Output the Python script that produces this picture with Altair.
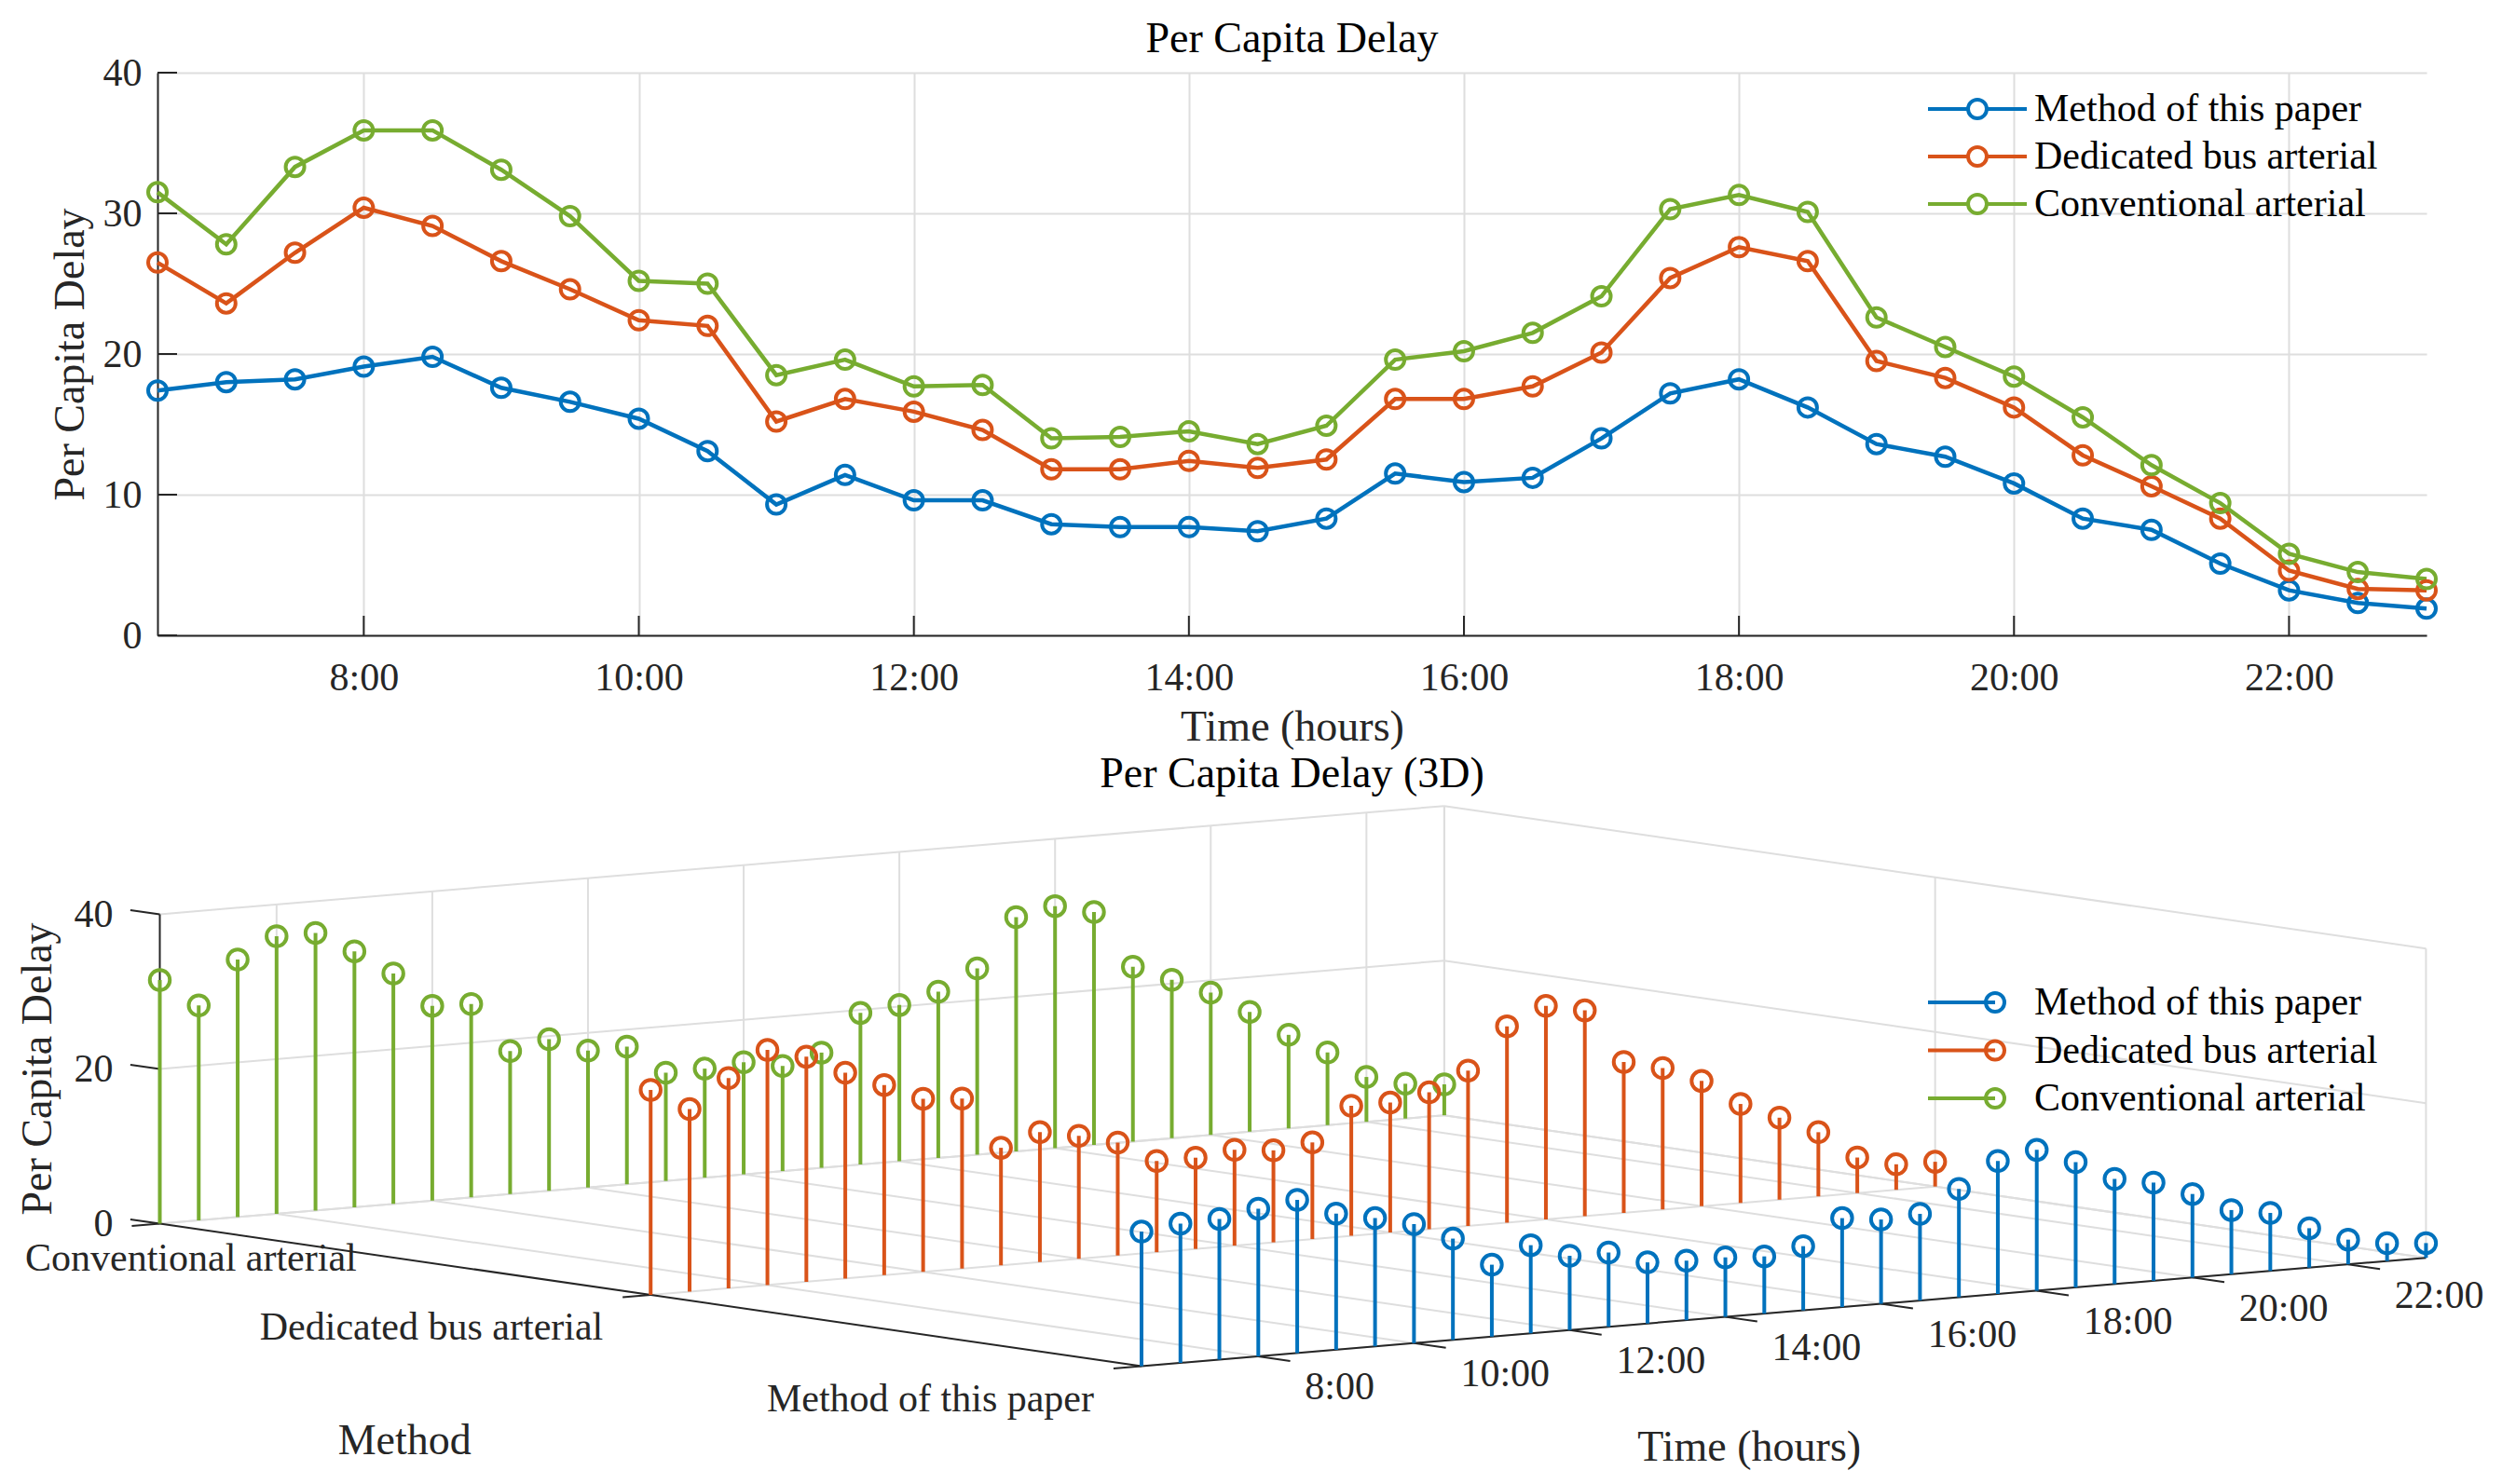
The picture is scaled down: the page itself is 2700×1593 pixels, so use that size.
import altair as alt
import pandas as pd

# ---------------- data ----------------
hours = [6.5, 7.0, 7.5, 8.0, 8.5, 9.0, 9.5, 10.0, 10.5, 11.0, 11.5, 12.0, 12.5,
         13.0, 13.5, 14.0, 14.5, 15.0, 15.5, 16.0, 16.5, 17.0, 17.5, 18.0, 18.5,
         19.0, 19.5, 20.0, 20.5, 21.0, 21.5, 22.0, 22.5, 23.0]
method_paper = [17.4, 18.0, 18.2, 19.1, 19.8, 17.6, 16.6, 15.4, 13.1, 9.3, 11.4, 9.6, 9.6,
                7.9, 7.7, 7.7, 7.4, 8.3, 11.5, 10.9, 11.2, 14.0, 17.2, 18.2, 16.2,
                13.6, 12.7, 10.8, 8.3, 7.5, 5.1, 3.2, 2.3, 1.9]
dedicated_bus = [26.5, 23.6, 27.2, 30.4, 29.1, 26.6, 24.6, 22.4, 22.0, 15.2, 16.8, 15.9, 14.6,
                 11.8, 11.8, 12.4, 11.9, 12.5, 16.8, 16.8, 17.7, 20.1, 25.4, 27.6, 26.6,
                 19.5, 18.3, 16.2, 12.8, 10.6, 8.3, 4.6, 3.3, 3.2]
conventional = [31.5, 27.8, 33.3, 35.9, 35.9, 33.1, 29.8, 25.2, 25.0, 18.5, 19.6, 17.7, 17.8,
                14.0, 14.1, 14.5, 13.6, 14.9, 19.6, 20.2, 21.5, 24.1, 30.3, 31.3, 30.1,
                22.6, 20.5, 18.4, 15.5, 12.1, 9.4, 5.8, 4.5, 4.0]

series_names = ["Method of this paper", "Dedicated bus arterial", "Conventional arterial"]
series_colors = ["#0072BD", "#D95319", "#77AC30"]
method_pos = [1, 2, 3]
time_ticks = [8, 10, 12, 14, 16, 18, 20, 22]
delay_ticks = [0, 10, 20, 30, 40]
z_ticks = [0, 20, 40]
h_lim = [6.5, 23.0]
m_lim = [1, 3]
z_lim = [0, 40]
title_top = ["Per Capita Delay"]
title_bottom = ["Per Capita Delay (3D)"]

# ---------------- styles ----------------
FONT = "Liberation Serif"
TXT = "#262626"
GRID = "#DEDEDE"
LAB = 42
TIT = 46

rows = []
for name, m, vals in zip(series_names, method_pos, [method_paper, dedicated_bus, conventional]):
    for h, v in zip(hours, vals):
        rows.append({"series": name, "m": m, "h": h, "delay": v})
df = pd.DataFrame(rows)

# ======================= top 2-D chart =======================
W, H = 2435, 604
xs_top = alt.Scale(domain=h_lim, nice=False, zero=False)
ys_top = alt.Scale(domain=z_lim, nice=False, zero=False)
cs_top = alt.Scale(domain=series_names, range=series_colors)

x_axis = alt.Axis(values=time_ticks, labelExpr="datum.value + ':00'", title="Time (hours)",
                  grid=True, gridColor=GRID, gridWidth=2, ticks=False, tickSize=0,
                  labelPadding=58, labelBaseline="alphabetic", labelFontSize=LAB,
                  titleFontSize=TIT, titleY=112, titleBaseline="alphabetic",
                  domainWidth=2, domainColor=TXT, labelFlush=False)
y_axis = alt.Axis(values=delay_ticks, title="Per Capita Delay", grid=True, gridColor=GRID,
                  gridWidth=2, ticks=False, tickSize=0, labelPadding=17, labelFontSize=LAB,
                  titleFontSize=TIT, titleX=-80, titleY=H / 2, titleAngle=270,
                  titleBaseline="alphabetic", titleAlign="center",
                  domainWidth=2, domainColor=TXT, labelFlush=False)

PATH_TOP = "M-5.3,0L-1,0M1,0L5.3,0M1,0A1,1,0,1,1,-1,0A1,1,0,1,1,1,0"
legend_top = alt.Legend(title=None, orient="none", legendX=1932, legendY=18,
                        symbolType=PATH_TOP, symbolSize=400, symbolStrokeWidth=4,
                        labelFont=FONT, labelFontSize=LAB, labelColor="black",
                        labelOffset=40, rowPadding=9, padding=0, labelLimit=0)

base_top = alt.Chart(df)
lines = base_top.mark_line(strokeWidth=4.5).encode(
    x=alt.X("h:Q", scale=xs_top, axis=x_axis),
    y=alt.Y("delay:Q", scale=ys_top, axis=y_axis),
    color=alt.Color("series:N", scale=cs_top, legend=legend_top),
)
pts = base_top.mark_point(filled=False, size=400, strokeWidth=4, opacity=1).encode(
    x=alt.X("h:Q", scale=xs_top, axis=x_axis),
    y=alt.Y("delay:Q", scale=ys_top, axis=y_axis),
    color=alt.Color("series:N", scale=cs_top, legend=legend_top),
)
xt = alt.Chart(pd.DataFrame({"h": time_ticks})).mark_rule(color=TXT, strokeWidth=2).encode(
    x=alt.X("h:Q", scale=xs_top, axis=x_axis), y=alt.value(H), y2=alt.value(H - 21))
yt = alt.Chart(pd.DataFrame({"delay": delay_ticks})).mark_rule(color=TXT, strokeWidth=2).encode(
    y=alt.Y("delay:Q", scale=ys_top, axis=y_axis), x=alt.value(0), x2=alt.value(21))
ttl_top = alt.Chart(pd.DataFrame({"lab": title_top})).mark_text(
    font=FONT, fontSize=TIT, color="black", align="center", baseline="alphabetic").encode(
    text="lab:N", x=alt.value(W / 2), y=alt.value(-22))

top = alt.layer(xt, yt, lines, pts, ttl_top).properties(width=W, height=H)

# ======================= bottom 3-D stem chart =======================
HB = 720
X0B, Y0B = 168, 860
xs_b = alt.Scale(domain=[X0B, X0B + W], nice=False, zero=False)
ys_b = alt.Scale(domain=[Y0B, Y0B + HB], nice=False, zero=False, reverse=True)
cs_b = alt.Scale(domain=series_names, range=series_colors)

# orthographic projection of (hour, method, delay) onto the page
def PX(h, m):
    return f"170.5 + 83.54*(({h}) - 6.5) + 526.75*(3 - ({m}))"

def PY(h, m, z):
    return f"1313.5 - 7.05*(({h}) - 6.5) + 76.5*(3 - ({m})) - 8.3*({z})"

def seg_chart(segs, color, width):
    d = pd.DataFrame(segs, columns=["h1", "m1", "z1", "h2", "m2", "z2"])
    return alt.Chart(d).transform_calculate(
        x1=PX("datum.h1", "datum.m1"), y1=PY("datum.h1", "datum.m1", "datum.z1"),
        x2=PX("datum.h2", "datum.m2"), y2=PY("datum.h2", "datum.m2", "datum.z2"),
    ).mark_rule(color=color, strokeWidth=width).encode(
        x=alt.X("x1:Q", scale=xs_b, axis=None), y=alt.Y("y1:Q", scale=ys_b, axis=None),
        x2="x2:Q", y2="y2:Q")

hmin, hmax = h_lim
mmin, mmax = m_lim
zmin, zmax = z_lim
grid_segs = []
for h in time_ticks + [hmax]:
    grid_segs.append([h, mmax, zmin, h, mmax, zmax])      # back wall verticals
    grid_segs.append([h, mmax, zmin, h, mmin, zmin])      # floor lines
for z in z_ticks:
    grid_segs.append([hmin, mmax, z, hmax, mmax, z])      # back wall horizontals
    grid_segs.append([hmax, mmax, z, hmax, mmin, z])      # side wall horizontals
for m in method_pos:
    grid_segs.append([hmax, m, zmin, hmax, m, zmax])      # side wall verticals
    grid_segs.append([hmin, m, zmin, hmax, m, zmin])      # floor lines
axis_segs = [
    [hmin, mmax, zmin, hmin, mmax, zmax],
    [hmin, mmax, zmin, hmin, mmin, zmin],
    [hmin, mmin, zmin, hmax, mmin, zmin],
]
for h in time_ticks:
    axis_segs.append([h, mmin, zmin, h, mmin - 0.065, zmin])
for m in method_pos:
    axis_segs.append([hmin, m, zmin, hmin - 0.36, m, zmin])
for z in z_ticks:
    axis_segs.append([hmin, mmax, z, hmin, mmax + 0.06, z])

grid_layer = seg_chart(grid_segs, GRID, 2)
axis_layer = seg_chart(axis_segs, TXT, 2)

PATH_B = "M-7.2,0L0,0M1,0A1,1,0,1,1,-1,0A1,1,0,1,1,1,0"
legend_b = alt.Legend(title=None, orient="none", legendX=1951, legendY=195,
                      symbolType=PATH_B, symbolSize=400, symbolStrokeWidth=4,
                      labelFont=FONT, labelFontSize=LAB, labelColor="black",
                      labelOffset=21, rowPadding=9.5, padding=0, labelLimit=0)

stem_layers = []
for name in reversed(series_names):
    b = alt.Chart(df).transform_filter(alt.datum.series == name).transform_calculate(
        sx=PX("datum.h", "datum.m"), sy0=PY("datum.h", "datum.m", "0"),
        sy=PY("datum.h", "datum.m", "datum.delay"))
    col = alt.Color("series:N", scale=cs_b, legend=legend_b)
    stem_layers.append(b.mark_rule(strokeWidth=4).encode(
        x=alt.X("sx:Q", scale=xs_b, axis=None), y=alt.Y("sy0:Q", scale=ys_b, axis=None),
        y2="sy:Q", color=col))
    stem_layers.append(b.mark_point(filled=False, size=462, strokeWidth=4, opacity=1).encode(
        x=alt.X("sx:Q", scale=xs_b, axis=None), y=alt.Y("sy:Q", scale=ys_b, axis=None),
        color=col))

def text_layer(d, xexpr, yexpr, field, **kw):
    return alt.Chart(d).transform_calculate(px=xexpr, py=yexpr).mark_text(
        font=FONT, **kw).encode(
        x=alt.X("px:Q", scale=xs_b, axis=None), y=alt.Y("py:Q", scale=ys_b, axis=None),
        text=f"{field}:N")

tdf = pd.DataFrame({"h": time_ticks, "lab": [f"{t}:00" for t in time_ticks]})
time_lab = text_layer(tdf, PX("datum.h", mmin), PY("datum.h", mmin, zmin), "lab",
                      align="left", baseline="alphabetic", dx=50, dy=46.5,
                      fontSize=LAB, color=TXT)
mdf = pd.DataFrame({"m": method_pos, "lab": series_names})
meth_lab = text_layer(mdf[mdf.m < mmax], PX(hmin, "datum.m"), PY(hmin, "datum.m", zmin), "lab",
                      align="right", baseline="alphabetic", dx=-51, dy=48,
                      fontSize=LAB, color=TXT)
meth_lab3 = text_layer(mdf[mdf.m == mmax], PX(hmin, "datum.m"), PY(hmin, "datum.m", zmin), "lab",
                       align="left", baseline="alphabetic", dx=-144.5, dy=50,
                       fontSize=LAB, color=TXT)
zdf = pd.DataFrame({"z": z_ticks, "lab": [str(z) for z in z_ticks]})
z_lab = text_layer(zdf, PX(hmin, mmax), PY(hmin, mmax, "datum.z"), "lab",
                   align="right", baseline="middle", dx=-50, dy=0, fontSize=LAB, color=TXT)

# rotated text: offsets are applied in the rotated frame (dy < 0 moves it left)
ztitle = text_layer(pd.DataFrame({"lab": ["Per Capita Delay"]}), PX(hmin, mmax),
                    PY(hmin, mmax, (zmin + zmax) / 2), "lab", align="center",
                    baseline="alphabetic", angle=270, dx=0, dy=-116.5, fontSize=TIT, color=TXT)
mtitle = text_layer(pd.DataFrame({"lab": ["Method"]}), PX(hmin, (mmin + mmax) / 2),
                    PY(hmin, (mmin + mmax) / 2, zmin), "lab", align="center",
                    baseline="alphabetic", dx=-264, dy=171, fontSize=TIT, color=TXT)
ttitle = text_layer(pd.DataFrame({"lab": ["Time (hours)"]}), PX((hmin + hmax) / 2, mmin),
                    PY((hmin + hmax) / 2, mmin, zmin), "lab", align="center",
                    baseline="alphabetic", dx=-37, dy=160, fontSize=TIT, color=TXT)
ttl_b = alt.Chart(pd.DataFrame({"lab": title_bottom})).mark_text(
    font=FONT, fontSize=TIT, color="black", align="center", baseline="alphabetic").encode(
    text="lab:N", x=alt.value(W / 2), y=alt.value(-15.5))

bottom = alt.layer(grid_layer, axis_layer, *stem_layers, time_lab, meth_lab, meth_lab3,
                   z_lab, ztitle, mtitle, ttitle, ttl_b).properties(width=W, height=HB)

chart = alt.vconcat(top, bottom, spacing=Y0B - (78 + H), bounds="flush").resolve_scale(
    color="independent").resolve_legend(color="independent").properties(
    padding={"left": 9, "top": 11, "right": 0, "bottom": 0}
).configure_view(stroke=None).configure_axis(
    labelFont=FONT, titleFont=FONT, labelColor=TXT, titleColor=TXT, titleFontWeight="normal"
)

chart.save("out.html", embed_options={"renderer": "svg", "actions": False})
